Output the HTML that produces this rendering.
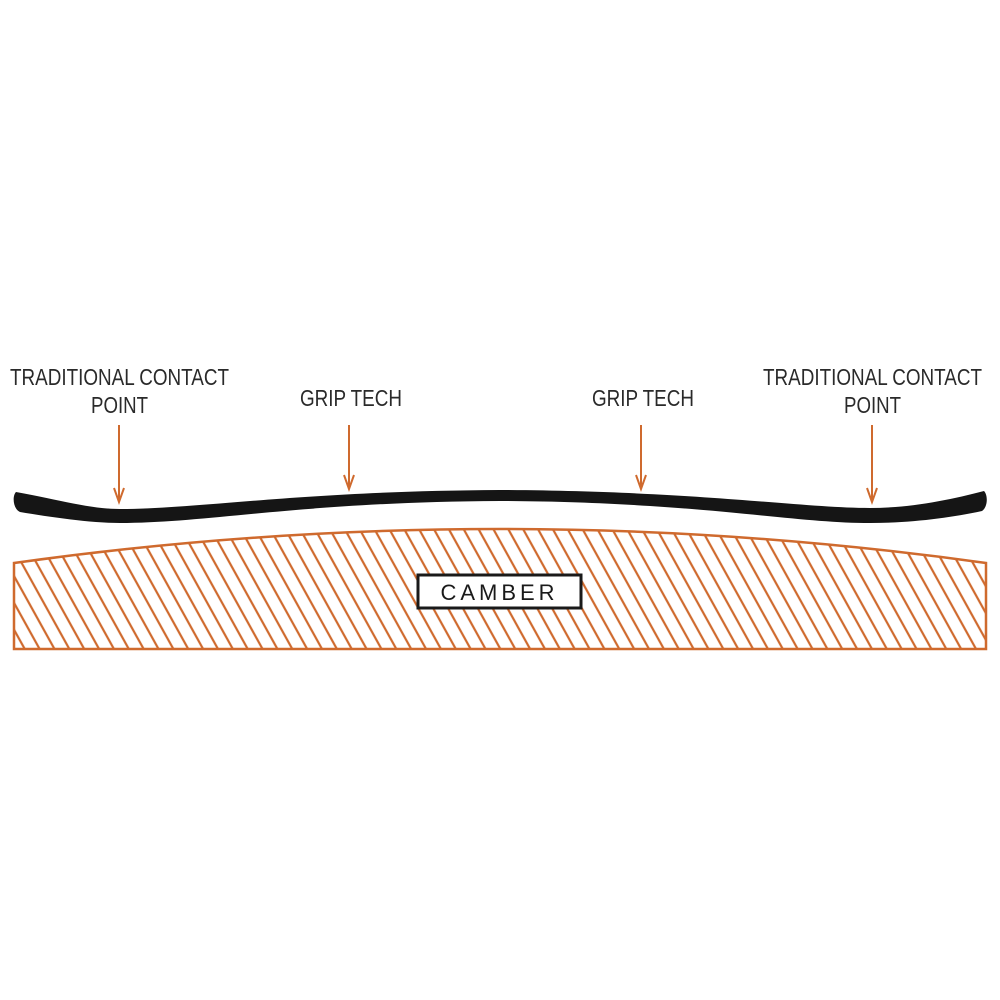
<!DOCTYPE html>
<html><head><meta charset="utf-8"><style>
html,body{margin:0;padding:0;background:#fff;}
svg{display:block;}
text{font-family:"Liberation Sans Narrow","Liberation Sans",sans-serif;fill:#2a2a2a;font-size:23px;}
</style></head><body>
<svg width="1000" height="1000" viewBox="0 0 1000 1000" xmlns="http://www.w3.org/2000/svg">
<defs>
<pattern id="h" width="13" height="40" patternUnits="userSpaceOnUse" patternTransform="rotate(-29)">
<line x1="6" y1="-5" x2="6" y2="45" stroke="#cf6a2e" stroke-width="2.2"/>
</pattern>
</defs>
<path d="M14,563 Q500,495 986,563 L986,649 L14,649 Z" fill="url(#h)" stroke="#cf6a2e" stroke-width="2.5"/>
<rect x="418" y="575" width="163" height="33" fill="#fff" stroke="#1a1a1a" stroke-width="3"/>
<text x="499.5" y="600" text-anchor="middle" style="font-family:'Liberation Sans',sans-serif;font-size:22px;letter-spacing:4px;fill:#1a1a1a">CAMBER</text>
<path d="M16,492 C60,500 90,509 120,509 C200,509 300,491 500,490 C700,491 800,508 870,508 C910,508 950,500 984,491 C988,495 988,507 982,511 C950,518 910,523 870,523 C790,523 700,502 500,501 C300,502 210,523 120,523 C90,523 50,517 20,512 C13,509 12,496 16,492 Z" fill="#151515"/>
<g stroke="#cf6a2e" stroke-width="2" fill="none">
<line x1="119" y1="425" x2="119" y2="502"/><path d="M114,488 L119,502 L124,488"/>
<line x1="349" y1="425" x2="349" y2="489"/><path d="M344,475 L349,489 L354,475"/>
<line x1="641" y1="425" x2="641" y2="489"/><path d="M636,475 L641,489 L646,475"/>
<line x1="872" y1="425" x2="872" y2="502"/><path d="M867,488 L872,502 L877,488"/>
</g>
<text x="10" y="385" textLength="219" lengthAdjust="spacingAndGlyphs">TRADITIONAL CONTACT</text>
<text x="91" y="413" textLength="57" lengthAdjust="spacingAndGlyphs">POINT</text>
<text x="300" y="406" textLength="102" lengthAdjust="spacingAndGlyphs">GRIP TECH</text>
<text x="592" y="406" textLength="102" lengthAdjust="spacingAndGlyphs">GRIP TECH</text>
<text x="763" y="385" textLength="219" lengthAdjust="spacingAndGlyphs">TRADITIONAL CONTACT</text>
<text x="844" y="413" textLength="57" lengthAdjust="spacingAndGlyphs">POINT</text>
</svg>
</body></html>
